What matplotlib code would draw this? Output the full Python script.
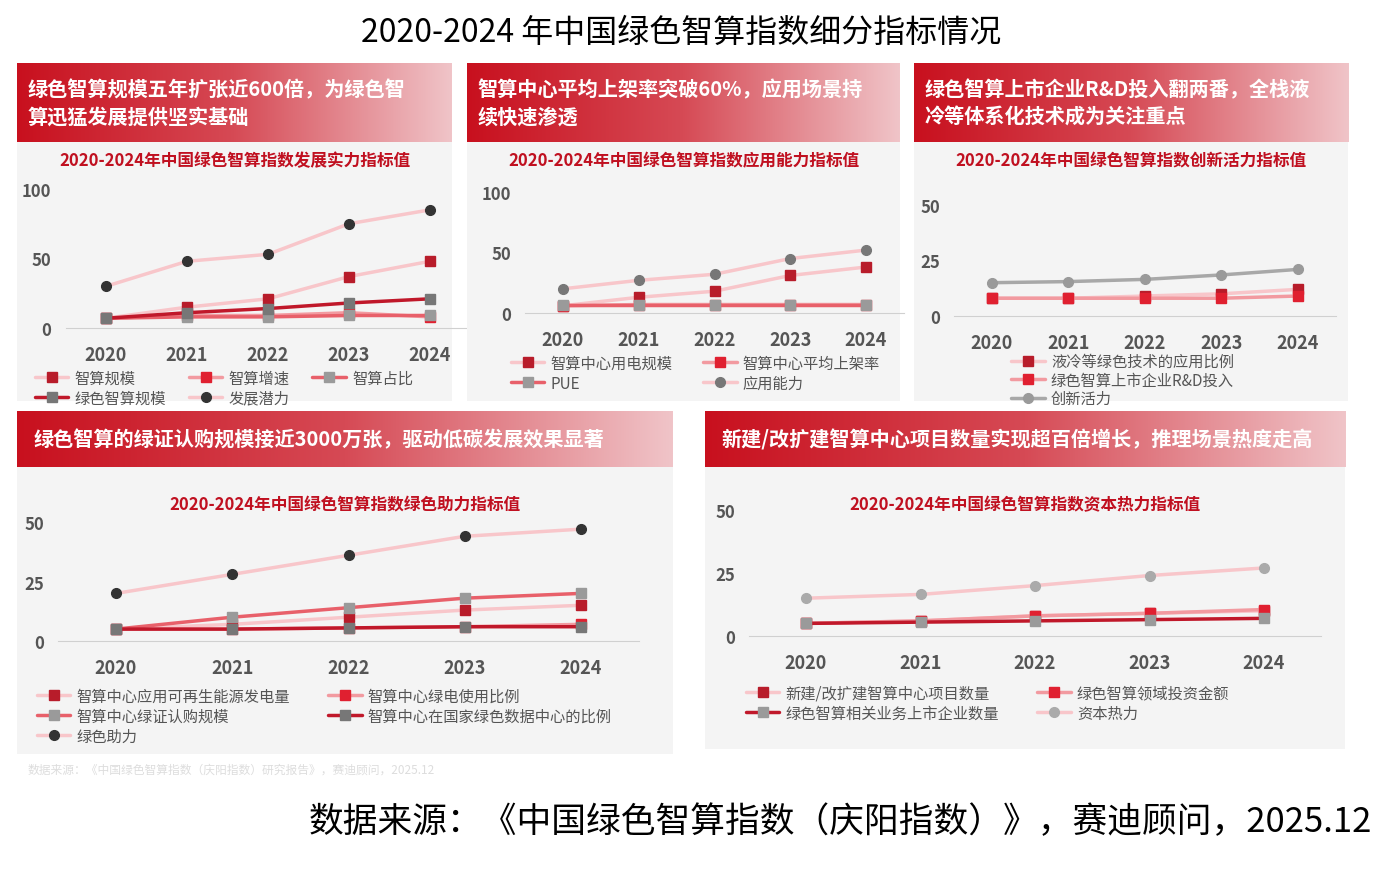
import matplotlib.pyplot as plt
import numpy as np
from matplotlib.colors import LinearSegmentedColormap

plt.rcParams['font.family'] = ['Noto Sans CJK SC', 'DejaVu Sans']

W, H = 1390, 878
years = ["2020", "2021", "2022", "2023", "2024"]

# panel 1: 发展实力
p1_scale = [7, 15, 21, 37, 48]
p1_speed = [7, 9, 9, 11, 8]
p1_share = [7, 8, 8, 9, 9]
p1_green = [7, 11, 14, 18, 21]
p1_potential = [30, 48, 53, 75, 85]
# panel 2: 应用能力
p2_power = [6, 13, 18, 31, 38]
p2_rack = [6, 7, 7, 7, 7]
p2_pue = [7, 7, 7, 7, 7]
p2_app = [20, 27, 32, 45, 52]
# panel 3: 创新活力
p3_cool = [8, 8, 9, 10, 12]
p3_rd = [8, 8, 8, 8, 9]
p3_innov = [15, 15.5, 16.5, 18.5, 21]
# panel 4: 绿色助力
p4_renew = [5, 7, 10, 13, 15]
p4_greenpower = [5, 5, 5.5, 6, 7]
p4_cert = [5, 10, 14, 18, 20]
p4_national = [5, 5, 5.5, 6, 6]
p4_assist = [20, 28, 36, 44, 47]
# panel 5: 资本热力
p5_projects = [5, 6, 8, 9, 10]
p5_invest = [5, 6, 8, 9, 10.5]
p5_listed = [5, 5.5, 6, 6.5, 7]
p5_heat = [15, 16.5, 20, 24, 27]

DARK = "#b81c2a"
RED = "#e02030"
GRAY = "#9a9a9a"
BLACK = "#333333"
PALE = "#f8c6ca"
MID = "#f29aa0"
REDL = "#e8606a"
DARKL = "#c0182a"
GRAYL = "#a8a8a8"

fig = plt.figure(figsize=(W / 100, H / 100), dpi=100)


def frac(x0, y0, x1, y1):
    return [x0 / W, 1 - y1 / H, (x1 - x0) / W, (y1 - y0) / H]


def panel(x0, y0, x1, yh, y1, header, sub, sub_y):
    bg = fig.add_axes(frac(x0, yh, x1, y1))
    bg.set_facecolor("#f4f4f4")
    bg.set_xticks([]); bg.set_yticks([])
    for s in bg.spines.values():
        s.set_visible(False)
    hd = fig.add_axes(frac(x0, y0, x1, yh))
    grad = np.linspace(0, 1, 256)[None, :]
    cmap = LinearSegmentedColormap.from_list("g", ["#c8101e", "#d64a55", "#f0c4c8"])
    hd.imshow(grad, aspect="auto", cmap=cmap, extent=[0, 1, 0, 1])
    hd.axis("off")
    hd.text(0.025, 0.5, header, color="white", fontsize=14.5, fontweight="bold",
            va="center", ha="left", linespacing=1.35, transform=hd.transAxes)
    fig.text((x0 + x1) / 2 / W, 1 - sub_y / H, sub, color="#c01020", fontsize=12,
             fontweight="bold", ha="center", va="center")


def plot_axes(x2020, x2024, y0px, yval, ytop_px, ymax, ticks, ypad=10):
    unit = (x2024 - x2020) / 4
    left = x2020 - 0.5 * unit
    right = x2024 + 0.5 * unit
    ppv = (y0px - ytop_px) / yval
    top = y0px - ymax * ppv
    ax = fig.add_axes(frac(left, top, right, y0px))
    ax.set_facecolor("none")
    ax.set_xlim(-0.5, 4.5)
    ax.set_ylim(0, ymax)
    for s in ["top", "right", "left"]:
        ax.spines[s].set_visible(False)
    ax.spines["bottom"].set_color("#d0d0d0")
    ax.set_yticks(ticks)
    ax.set_xticks(range(5))
    ax.set_xticklabels(years)
    ax.tick_params(length=0, labelsize=13, colors="#555555", pad=12)
    ax.tick_params(axis="y", pad=ypad, labelsize=12)
    for t in ax.get_xticklabels() + ax.get_yticklabels():
        t.set_fontweight("bold")
    return ax


def series(ax, vals, lc, mc, marker, label, lw=2.5, ms=7):
    ax.plot(range(5), vals, color=lc, lw=lw, marker=marker, mfc=mc, mec=mc,
            ms=ms, label=label, solid_capstyle="round")


def legend(ax, x, y, ncol, colsp=2.0):
    h, l = ax.get_legend_handles_labels()
    # row-major order like the reference
    order = []
    for c in range(ncol):
        order += list(range(c, len(h), ncol))
    ax.legend([h[i] for i in order], [l[i] for i in order],
              loc="upper left", bbox_to_anchor=(x / W, 1 - y / H),
              bbox_transform=fig.transFigure, ncol=ncol, frameon=False,
              fontsize=11, handlelength=2.2, columnspacing=colsp,
              labelspacing=0.2, handletextpad=0.4, labelcolor="#555555",
              borderpad=0.2)


fig.text(0.49, 1 - 33 / H, "2020-2024 年中国绿色智算指数细分指标情况",
         fontsize=23, fontweight="medium", ha="center", va="center")

# panel 1
panel(17, 64, 452, 143, 402, "绿色智算规模五年扩张近600倍，为绿色智\n算迅猛发展提供坚实基础",
      "2020-2024年中国绿色智算指数发展实力指标值", 161)
ax = plot_axes(106, 430, 329, 100, 190, 100, [0, 50, 100])
series(ax, p1_scale, PALE, DARK, "s", "智算规模")
series(ax, p1_speed, MID, RED, "s", "智算增速")
series(ax, p1_share, REDL, GRAY, "s", "智算占比")
series(ax, p1_green, DARKL, "#777777", "s", "绿色智算规模")
series(ax, p1_potential, PALE, BLACK, "o", "发展潜力")
legend(ax, 24, 360, 3, 1.5)

# panel 2
panel(467, 64, 900, 143, 402, "智算中心平均上架率突破60%，应用场景持\n续快速渗透",
      "2020-2024年中国绿色智算指数应用能力指标值", 161)
ax = plot_axes(563, 866, 314, 100, 193, 100, [0, 50, 100])
series(ax, p2_power, PALE, DARK, "s", "智算中心用电规模")
series(ax, p2_rack, MID, RED, "s", "智算中心平均上架率")
series(ax, p2_pue, REDL, GRAY, "s", "PUE")
series(ax, p2_app, PALE, "#777777", "o", "应用能力")
legend(ax, 500, 345, 2, 2.0)

# panel 3
panel(914, 64, 1348, 143, 402, "绿色智算上市企业R&D投入翻两番，全栈液\n冷等体系化技术成为关注重点",
      "2020-2024年中国绿色智算指数创新活力指标值", 161)
ax = plot_axes(992, 1298, 317, 50, 206, 50, [0, 25, 50])
series(ax, p3_cool, PALE, DARK, "s", "液冷等绿色技术的应用比例")
series(ax, p3_rd, MID, RED, "s", "绿色智算上市企业R&D投入")
series(ax, p3_innov, GRAYL, GRAY, "o", "创新活力")
ax.legend(loc="upper left", bbox_to_anchor=(1002 / W, 1 - 345 / H),
          bbox_transform=fig.transFigure, frameon=False, fontsize=11,
          handlelength=2.2, labelspacing=0.1, handletextpad=0.4,
          labelcolor="#555555", borderpad=0.1)

# panel 4
panel(17, 412, 673, 468, 755, "绿色智算的绿证认购规模接近3000万张，驱动低碳发展效果显著",
      "2020-2024年中国绿色智算指数绿色助力指标值", 505)
ax = plot_axes(116, 581, 642, 50, 523, 50, [0, 25, 50])
series(ax, p4_renew, PALE, DARK, "s", "智算中心应用可再生能源发电量")
series(ax, p4_greenpower, MID, RED, "s", "智算中心绿电使用比例")
series(ax, p4_cert, REDL, GRAY, "s", "智算中心绿证认购规模")
series(ax, p4_national, DARKL, "#777777", "s", "智算中心在国家绿色数据中心的比例")
series(ax, p4_assist, PALE, BLACK, "o", "绿色助力")
legend(ax, 26, 678, 2, 2.5)

# panel 5
panel(705, 412, 1345, 468, 750, "新建/改扩建智算中心项目数量实现超百倍增长，推理场景热度走高",
      "2020-2024年中国绿色智算指数资本热力指标值", 505)
ax = plot_axes(806, 1264, 637, 50, 511, 50, [0, 25, 50])
series(ax, p5_projects, PALE, DARK, "s", "新建/改扩建智算中心项目数量")
series(ax, p5_invest, MID, RED, "s", "绿色智算领域投资金额")
series(ax, p5_listed, DARKL, GRAY, "s", "绿色智算相关业务上市企业数量")
series(ax, p5_heat, PALE, "#aaaaaa", "o", "资本热力")
legend(ax, 735, 675, 2, 2.5)

fig.text(28 / W, 1 - 770 / H, "数据来源：《中国绿色智算指数（庆阳指数）研究报告》，赛迪顾问，2025.12",
         fontsize=8.5, color="#dddddd", va="center")
fig.text(1372 / W, 1 - 823 / H, "数据来源：《中国绿色智算指数（庆阳指数）》，赛迪顾问，2025.12",
         fontsize=25, ha="right", va="center")

fig.savefig("out.png", dpi=100)
